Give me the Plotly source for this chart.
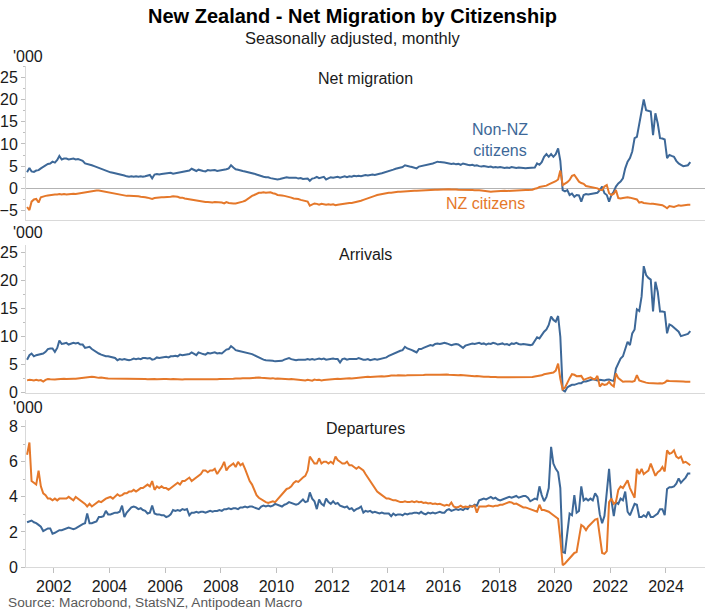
import plotly.graph_objects as go
import pandas as pd

# ---------------- data ('000, seasonally adjusted, monthly Jan-2001 .. Nov-2024) ----------------
months = pd.date_range("2001-01-01", "2024-11-01", freq="MS") + pd.Timedelta(days=14)

net_non_nz = [
    3.6, 4.6, 3.8, 3.7, 4.0, 4.1, 4.5, 4.9, 5.1, 5.5, 5.6, 6.0,
    5.8, 6.4, 7.3, 6.5, 6.7, 6.7, 6.5, 6.6, 6.7, 6.5, 6.6, 6.4,
    6.2, 5.6, 5.5, 5.3, 5.2, 5.0, 4.8, 4.6, 4.4, 4.1, 4.0, 3.7,
    3.6, 3.5, 3.4, 3.3, 3.1, 3.0, 2.9, 2.7, 2.6, 2.7, 2.6, 2.7,
    2.6, 2.7, 2.6, 2.7, 2.8, 3.0, 2.25, 3.1, 3.2, 3.1, 3.2, 3.3,
    3.4, 3.4, 3.5, 3.3, 3.4, 3.5, 3.6, 3.7, 3.8, 3.9, 4.0, 4.4,
    4.1, 3.9, 4.2, 4.0, 3.9, 3.8, 4.1, 4.0, 4.0, 4.1, 3.9, 4.0,
    4.0, 4.1, 4.3, 4.5, 5.2, 4.7, 4.3, 4.2, 4.0, 3.9, 3.8, 3.7,
    3.6, 3.5, 3.3, 3.1, 2.9, 2.8, 2.6, 2.5, 2.5, 2.3, 2.2, 2.1,
    2.0, 2.1, 2.2, 2.4, 2.5, 2.4, 2.4, 2.3, 2.4, 2.2, 2.3, 2.1,
    2.2, 2.2, 1.7, 2.2, 2.3, 2.6, 2.3, 2.4, 2.6, 2.0, 2.3, 2.5,
    2.4, 2.5, 2.6, 2.4, 2.6, 2.7, 2.5, 2.7, 2.6, 2.8, 2.7, 2.8,
    2.7, 2.9, 3.0, 2.9, 3.0, 3.1, 3.0, 3.2, 3.3, 3.4, 3.6, 3.8,
    3.9, 4.1, 4.2, 4.4, 4.5, 4.6, 4.8, 5.2, 5.0, 4.9, 4.8, 4.6,
    4.5, 4.9, 5.0, 5.1, 5.2, 5.3, 5.5, 5.6, 5.8, 6.0, 5.9, 5.9,
    5.8, 5.7, 5.6, 5.5, 5.6, 5.4, 5.5, 5.3, 5.6, 5.4, 5.3, 5.2,
    5.3, 5.1, 5.2, 5.0, 4.9, 5.0, 4.9, 4.8, 4.9, 4.7, 4.8, 4.7,
    4.8, 4.7, 4.6, 4.7, 4.6, 4.8, 4.7, 4.6, 4.7, 4.6, 4.6, 4.5,
    4.6, 4.65, 4.6, 4.7, 5.6, 5.3, 5.9, 7.1, 7.7, 7.1, 7.7, 7.1,
    7.7, 9.0, 6.2, -0.4, -0.7, -0.4, -1.5, -1.2, -1.9, -1.5, -1.6, -3.0,
    -1.5, -1.3, -1.4, -1.3, -1.2, -1.1, -1.0, -0.4, 0.4, -1.1, -1.5, -3.0,
    -1.5, -0.7, 0.4, 1.1, 1.5, 2.25, 4.5, 6.0, 6.8, 8.3, 11.3, 11.6,
    14.6, 17.6, 20.0, 17.6, 17.4, 17.3, 12.0, 16.9, 14.6, 11.3, 11.2, 11.0,
    6.8, 7.5, 7.3, 7.1, 6.2, 5.6, 5.3, 5.0, 5.1, 5.2, 5.9,
]

net_nz = [
    -4.2, -4.9, -3.0, -2.5, -2.4, -3.2, -2.0, -1.8, -1.7, -1.6, -1.5, -1.5,
    -1.4, -1.4, -1.3, -1.4, -1.3, -1.4, -1.3, -1.3, -1.2, -1.3, -1.2, -1.1,
    -1.0, -1.0, -0.9, -0.8, -0.7, -0.6, -0.5, -0.5, -0.6, -0.7, -0.8, -1.0,
    -1.1, -1.2, -1.3, -1.4, -1.5, -1.5, -1.6, -1.7, -1.7, -1.7, -1.8, -1.8,
    -1.8, -1.9, -1.9, -2.0, -2.1, -2.2, -2.4, -2.2, -2.1, -2.1, -2.0, -2.0,
    -2.0, -1.9, -1.9, -1.8, -1.8, -1.9, -2.1, -2.1, -2.3, -2.4, -2.5, -2.6,
    -2.6, -2.7, -2.8, -2.9, -3.0, -3.1, -3.1, -3.2, -3.2, -3.1, -3.1, -3.2,
    -3.2, -3.4, -3.1, -3.3, -3.4, -3.4, -3.4, -3.3, -3.2, -3.0, -2.8, -2.4,
    -2.0, -1.7, -1.5, -1.2, -1.0, -1.0, -0.9, -1.0, -1.0, -0.9, -1.1, -1.2,
    -1.5, -1.5, -1.6, -1.7, -1.8, -1.9, -2.1, -2.3, -2.3, -2.4, -2.6, -2.7,
    -2.9, -3.0, -3.9, -3.6, -3.4, -3.5, -3.7, -3.5, -3.6, -3.7, -3.6, -3.7,
    -3.6, -3.8, -3.7, -3.6, -3.5, -3.4, -3.4, -3.3, -3.3, -3.2, -3.0, -3.0,
    -2.8, -2.6, -2.4, -2.2, -2.0, -1.9, -1.7, -1.5, -1.4, -1.2, -1.1, -1.0,
    -1.0, -1.0, -0.9, -0.8, -0.75, -0.75, -0.7, -0.7, -0.65, -0.6, -0.6, -0.55,
    -0.55, -0.5, -0.5, -0.45, -0.4, -0.4, -0.4, -0.35, -0.3, -0.3, -0.25, -0.25,
    -0.25, -0.2, -0.2, -0.25, -0.2, -0.25, -0.3, -0.3, -0.25, -0.3, -0.35, -0.4,
    -0.4, -0.45, -0.4, -0.45, -0.5, -0.6, -0.65, -0.7, -0.75, -0.7, -0.65, -0.6,
    -0.6, -0.55, -0.55, -0.6, -0.55, -0.5, -0.45, -0.5, -0.45, -0.4, -0.4, -0.35,
    -0.4, -0.4, -0.3, -0.1, 0.0, 0.3, 0.4, 0.5, 0.6, 0.9, 1.1, 1.3,
    1.6, 2.0, 4.0, 0.75, 1.0, 1.4, 1.9, 2.8, 3.0, 2.3, 1.5, 1.2,
    1.0, 0.5, 0.4, 0.4, 0.3, 0.1, 0.0, -0.3, -0.4, 0.4, 0.75, -1.1,
    -1.5, -1.2, -0.4, -2.2, -2.3, -2.2, -2.1, -2.0, -2.1, -2.2, -2.3, -2.5,
    -3.2, -3.1, -3.3, -3.4, -3.4, -3.5, -3.5, -3.6, -3.7, -3.7, -3.8, -4.1,
    -4.5, -4.0, -4.1, -4.2, -4.0, -3.8, -3.9, -3.8, -3.7, -3.7, -3.7,
]

arr_non_nz = [
    5.9, 6.7, 7.0, 6.5, 6.7, 6.8, 6.9, 7.0, 7.3, 7.8, 7.9, 7.9,
    7.3, 8.0, 9.3, 8.7, 8.8, 8.9, 8.6, 8.7, 8.9, 8.8, 8.9, 8.6,
    8.6, 8.0, 8.1, 8.2, 7.8, 7.5, 7.3, 7.0, 6.8, 6.6, 6.5, 6.5,
    6.4, 6.4, 6.2, 5.8, 6.0, 5.9, 6.0, 5.9, 5.8, 5.9, 6.1, 6.0,
    6.1, 6.0, 6.2, 6.2, 6.1, 6.2, 5.9, 6.0, 6.3, 6.2, 6.3, 6.4,
    6.4, 6.3, 6.5, 6.5, 6.6, 6.5, 6.8, 6.7, 6.8, 6.9, 6.9, 7.2,
    6.9, 6.7, 7.2, 7.0, 6.9, 6.8, 7.1, 7.0, 7.1, 7.2, 7.0, 7.1,
    7.0, 7.4, 7.7, 7.8, 8.3, 8.0, 7.6, 7.5, 7.4, 7.3, 7.2, 7.2,
    7.0, 6.9, 6.7, 6.5, 6.2, 6.1, 5.9, 5.8, 5.8, 5.7, 5.7, 5.6,
    5.6, 5.6, 5.7, 5.9, 6.0, 6.2, 6.0, 5.9, 5.8, 5.9, 5.9, 5.8,
    5.9, 6.0, 5.9, 6.0, 5.9, 6.0, 6.1, 6.0, 6.1, 5.9, 6.0, 6.1,
    6.1, 6.0, 6.0, 5.4, 6.0, 6.1, 5.9, 6.0, 6.0, 6.1, 6.0, 6.2,
    6.0, 5.9, 5.9, 6.0, 5.8, 5.9, 6.0, 5.9, 6.0, 6.0, 6.2, 6.3,
    6.6, 6.8, 7.0, 7.1, 7.3, 7.5, 7.6, 8.2, 7.9, 7.8, 7.6, 7.4,
    7.2, 7.8, 7.8, 8.0, 8.2, 8.3, 8.5, 8.4, 8.7, 8.8, 8.7, 8.8,
    8.9, 8.8, 8.6, 8.5, 8.6, 8.7, 8.6, 8.3, 8.0, 8.4, 8.5, 8.7,
    8.8, 8.7, 8.8, 8.9, 8.7, 8.8, 8.6, 8.8, 8.7, 8.9, 8.8, 8.6,
    8.7, 8.8, 8.6, 8.7, 8.5, 8.8, 8.7, 8.9, 8.7, 8.6, 8.7, 8.6,
    8.5, 8.5, 8.6, 9.3, 9.9, 9.7, 10.4, 10.9, 11.3, 12.1, 13.6, 13.0,
    12.7, 13.7, 10.0, 0.5, 0.2, 0.95, 1.2, 1.4, 1.4, 1.6, 1.7, 1.7,
    2.0, 2.0, 2.1, 2.3, 2.4, 2.3, 2.2, 2.3, 2.25, 2.2, 2.3, 2.35,
    2.2, 2.1, 4.3, 5.2, 6.1, 6.5, 7.6, 9.1, 8.5, 10.6, 11.3, 14.9,
    14.6, 17.2, 22.6, 21.0, 20.5, 20.2, 14.5, 19.8, 18.0, 14.5, 14.5, 14.4,
    10.6, 12.2, 12.0, 11.6, 11.3, 10.9, 10.1, 10.2, 10.3, 10.5, 11.0,
]

arr_nz = [
    2.2, 2.3, 2.25, 2.2, 2.3, 2.2, 2.25, 2.0, 2.3, 2.45, 2.4, 2.35,
    2.35, 2.4, 2.45, 2.4, 2.5, 2.45, 2.5, 2.45, 2.5, 2.5, 2.55, 2.6,
    2.7, 2.75, 2.85, 2.8, 2.85, 2.8, 2.7, 2.65, 2.7, 2.6, 2.6, 2.55,
    2.55, 2.5, 2.55, 2.5, 2.5, 2.45, 2.55, 2.5, 2.45, 2.5, 2.5, 2.45,
    2.5, 2.45, 2.5, 2.45, 2.4, 2.45, 2.5, 2.45, 2.4, 2.45, 2.4, 2.45,
    2.45, 2.4, 2.4, 2.45, 2.4, 2.35, 2.4, 2.35, 2.4, 2.4, 2.35, 2.3,
    2.3, 2.35, 2.3, 2.35, 2.3, 2.3, 2.35, 2.4, 2.35, 2.4, 2.4, 2.45,
    2.45, 2.4, 2.45, 2.5, 2.45, 2.5, 2.55, 2.5, 2.55, 2.6, 2.55, 2.6,
    2.6, 2.65, 2.6, 2.65, 2.7, 2.65, 2.6, 2.65, 2.6, 2.55, 2.6, 2.5,
    2.55, 2.5, 2.45, 2.5, 2.45, 2.4, 2.45, 2.4, 2.35, 2.4, 2.3, 2.25,
    2.2, 2.3, 2.2, 2.15, 2.35, 2.25, 2.3, 2.2, 2.25, 2.3, 2.35, 2.4,
    2.4, 2.45, 2.5, 2.45, 2.5, 2.55, 2.5, 2.6, 2.55, 2.6, 2.65, 2.7,
    2.7, 2.75, 2.8, 2.85, 2.8, 2.85, 2.9, 2.85, 2.9, 2.95, 2.9, 3.0,
    3.0, 3.05, 3.0, 3.05, 3.1, 3.05, 3.1, 3.05, 3.1, 3.1, 3.05, 3.1,
    3.1, 3.15, 3.1, 3.15, 3.2, 3.15, 3.2, 3.2, 3.25, 3.2, 3.2, 3.25,
    3.2, 3.25, 3.2, 3.15, 3.2, 3.15, 3.1, 3.15, 3.1, 3.05, 3.1, 3.0,
    3.0, 2.95, 3.0, 2.9, 2.9, 2.85, 2.9, 2.85, 2.8, 2.85, 2.8, 2.75,
    2.75, 2.8, 2.75, 2.7, 2.75, 2.7, 2.75, 2.7, 2.7, 2.75, 2.7, 2.75,
    2.75, 2.75, 2.8, 2.9, 2.95, 3.0, 3.1, 3.3, 3.35, 3.45, 3.55, 3.6,
    3.95, 5.2, 2.5, 0.6, 0.9, 1.9, 2.6, 3.3, 3.2, 2.95, 3.0, 3.0,
    2.3, 2.4, 2.6, 2.75, 2.5, 2.4, 3.0, 1.1, 1.6, 1.4, 1.5, 1.95,
    1.4, 1.1, 3.45, 2.6, 2.25, 1.95, 2.0, 2.05, 2.0, 1.95, 2.1, 3.15,
    2.2, 2.05, 1.9, 1.8, 1.75, 1.7, 1.65, 1.7, 1.65, 1.7, 1.65, 1.8,
    2.15, 2.1, 2.1, 2.1, 2.05, 2.05, 2.0, 2.0, 1.95, 1.95, 1.95,
]

dep_non_nz = [
    2.55, 2.62, 2.65, 2.55, 2.5, 2.4, 2.3, 2.05, 2.15, 2.2, 2.2, 1.9,
    1.95, 2.05, 2.1, 2.1, 2.15, 2.2, 2.25, 2.2, 2.15, 2.2, 2.3, 2.35,
    2.45, 2.5, 3.05, 2.5, 2.5, 2.55, 2.6, 2.85, 2.85, 2.9, 3.2, 3.0,
    3.0, 3.05, 3.1, 3.1, 3.15, 3.5, 2.85, 3.1, 3.25, 3.4, 3.45, 3.4,
    3.3, 3.35, 3.25, 3.2, 3.05, 3.1, 3.5, 3.05, 3.0, 3.0, 2.95, 2.95,
    2.85, 2.9, 3.0, 3.25, 3.2, 3.25, 3.2, 3.3, 3.25, 3.3, 2.95, 3.1,
    3.1, 3.15, 3.1, 3.15, 3.15, 3.1, 3.15, 3.2, 3.15, 3.2, 3.2, 3.25,
    3.2, 3.3, 3.3, 3.35, 3.3, 3.35, 3.35, 3.3, 3.4, 3.4, 3.45, 3.4,
    3.45, 3.45, 3.4, 3.35, 3.3, 3.45, 3.5, 3.45, 3.5, 3.45, 3.5, 3.6,
    3.55, 3.5, 3.45, 3.55, 3.6, 3.7, 3.65, 3.6, 3.55, 3.6, 3.7, 3.85,
    3.7, 3.75, 4.25, 3.9, 3.75, 3.3, 3.85, 3.6, 3.5, 3.9, 3.7, 3.6,
    3.75, 3.6, 3.65, 3.5, 3.45, 3.4, 3.45, 3.3, 3.35, 3.2, 3.3, 3.35,
    3.45, 3.1, 3.2, 3.15, 3.2, 3.1, 3.15, 3.1, 3.05, 3.1, 3.05, 3.05,
    3.05, 2.9, 3.05, 2.95, 3.0, 3.0, 2.95, 3.05, 3.0, 3.05, 3.05, 3.1,
    3.1, 3.05, 3.15, 3.05, 3.0, 3.1, 3.05, 3.1, 3.05, 3.1, 3.15, 3.1,
    3.1, 3.25, 3.3, 3.2, 3.25, 3.3, 3.25, 3.3, 3.25, 3.35, 3.3, 3.5,
    3.45, 3.55, 3.5, 3.8, 3.85, 3.9, 3.85, 3.95, 4.0, 3.9, 3.95, 3.85,
    3.8, 3.85, 3.9, 3.95, 4.0, 3.95, 4.0, 4.05, 3.95, 4.0, 4.05, 4.05,
    3.95, 3.75, 3.8, 3.9, 3.85, 4.6, 4.1, 3.75, 4.0, 4.5, 6.85, 5.9,
    5.6, 5.4, 4.5, 0.85, 0.8, 2.1, 3.05, 2.95, 4.1, 3.1, 3.2, 4.6,
    3.8, 3.9, 3.8, 3.9, 3.8, 4.2, 4.0, 3.0, 2.5, 2.9, 4.2, 5.6,
    3.8, 2.9, 3.7, 3.6, 3.9, 3.8, 4.3, 3.15, 2.95, 3.3, 3.6, 3.55,
    2.85, 2.85, 2.95, 2.85, 3.15, 2.85, 2.85, 2.95, 3.05, 3.3, 3.3, 2.95,
    4.45, 4.55, 4.55, 4.6, 4.75, 5.05, 4.8, 4.95, 5.1, 5.33, 5.33,
]

dep_nz = [
    6.4, 7.1, 4.9, 4.8, 4.7, 5.5, 4.6, 4.2, 4.1, 3.9, 3.9, 3.8,
    3.9, 3.8, 3.9, 3.9, 3.9, 3.9, 4.0, 3.9, 3.8, 4.0, 3.9, 3.8,
    3.7, 3.6, 3.45, 3.6, 3.45, 3.55, 3.6, 3.75, 3.7, 3.8, 3.9, 3.95,
    4.0, 3.9, 4.05, 4.15, 4.05, 4.1, 4.2, 4.2, 4.3, 4.3, 4.4, 4.3,
    4.4, 4.5, 4.5, 4.6, 4.7, 4.6, 4.9, 4.4, 4.6, 4.5, 4.6, 4.5,
    4.5, 4.4, 4.5, 4.6, 4.7, 4.8, 4.7, 4.9, 4.9, 5.0, 5.1, 4.9,
    5.0, 5.1, 5.2, 5.3, 5.5, 5.5, 5.4, 5.5, 5.5, 5.6, 5.3, 5.5,
    5.7, 6.0, 5.5, 5.7, 5.8, 5.9, 5.7, 6.0, 5.8, 5.9, 5.6, 5.2,
    4.9, 4.7, 4.4, 4.1, 3.95, 3.85, 3.8, 3.7, 3.65, 3.7, 3.75, 3.7,
    3.85, 4.0, 4.1, 4.3, 4.45, 4.5, 4.6, 4.8, 4.9, 4.85, 5.0, 5.1,
    5.2, 5.5, 6.3, 6.1, 5.9, 5.9, 6.2, 5.9, 6.0, 6.0, 5.9, 6.0,
    5.9, 6.3, 6.1, 6.0, 5.9, 5.9, 6.0, 5.8, 5.8, 5.7, 5.6, 5.7,
    5.6, 5.5, 5.3, 5.1, 4.9, 4.7, 4.5, 4.3, 4.2, 4.1, 4.0, 3.9,
    3.9, 3.85, 3.8, 3.8, 3.75, 3.7, 3.7, 3.75, 3.7, 3.7, 3.75, 3.7,
    3.75, 3.7, 3.72, 3.65, 3.68, 3.62, 3.65, 3.6, 3.62, 3.58, 3.6, 3.55,
    3.5, 3.55, 3.5, 3.68, 3.45, 3.4, 3.42, 3.5, 3.4, 3.45, 3.42, 3.45,
    3.45, 3.5, 3.1, 3.45, 3.45, 3.48, 3.45, 3.5, 3.47, 3.45, 3.5, 3.5,
    3.55, 3.55, 3.6, 3.65, 3.7, 3.68, 3.6, 3.62, 3.55, 3.45, 3.4, 3.4,
    3.35, 3.3, 3.25, 3.2, 3.15, 3.55, 3.25, 3.25, 3.2, 3.15, 3.05, 2.95,
    2.85, 2.75, 1.6, 0.1, 0.2, 0.35, 0.55, 0.7, 0.8, 0.85, 1.7, 2.4,
    2.3, 2.1, 2.3, 2.45, 2.55, 2.7, 2.75, 1.6, 0.8, 0.75, 0.9, 3.7,
    3.9, 3.6, 3.7, 4.4, 4.6, 4.5, 4.7, 4.95, 4.5, 4.2, 3.95, 5.6,
    5.3, 5.6, 5.3, 5.4, 5.5, 5.9, 5.6, 5.2, 5.4, 5.5, 5.7, 5.45,
    6.65, 6.45, 6.5, 6.65, 6.3, 6.2, 6.3, 5.95, 6.0, 5.9, 5.8,
]

series_names = ["Non-NZ citizens", "NZ citizens"]
panel_titles = ["Net migration", "Arrivals", "Departures"]

for s in (net_non_nz, net_nz, arr_non_nz, arr_nz, dep_non_nz, dep_nz):
    assert len(s) == len(months), len(s)

# ---------------- styling / geometry ----------------
BLUE = "#3d6898"
ORANGE = "#e5782a"
AXIS = "#d9d9d9"
TICKC = "#bfbfbf"
TXT = "#1a1a1a"
FONT = "Liberation Sans, Arial, sans-serif"

W, H = 705, 612
ML, MR, MT, MB = 26, 0, 0, 45
PH = H - MT - MB
PW = W - ML - MR


def py(y):
    return (PH - (y - MT)) / PH


def px(x):
    return (x - ML) / PW


fig = go.Figure()
panels = [
    ("x", "y", net_non_nz, net_nz),
    ("x2", "y2", arr_non_nz, arr_nz),
    ("x3", "y3", dep_non_nz, dep_nz),
]
for xa, ya, blue_vals, orange_vals in panels:
    fig.add_trace(go.Scatter(x=months, y=blue_vals, xaxis=xa, yaxis=ya, mode="lines",
                             name=series_names[0], line=dict(color=BLUE, width=2),
                             showlegend=False))
    fig.add_trace(go.Scatter(x=months, y=orange_vals, xaxis=xa, yaxis=ya, mode="lines",
                             name=series_names[1], line=dict(color=ORANGE, width=2),
                             showlegend=False))

xrange = ["2001-01-01", "2025-05-27"]
common_x = dict(range=xrange, type="date", showgrid=False, zeroline=False,
                showline=True, linecolor=AXIS, linewidth=1)


def yax(domain, rng, dtick, minor, zeroline=False):
    return dict(domain=domain, range=rng, tick0=0, dtick=dtick, showgrid=False,
                zeroline=zeroline, zerolinecolor="#b3b3b3", zerolinewidth=1,
                showline=True, linecolor=AXIS, linewidth=1,
                ticks="outside", ticklen=4, tickcolor=TICKC,
                minor=dict(ticks="outside", ticklen=2, tickcolor=TICKC, dtick=minor, tick0=0),
                tickfont=dict(family=FONT, size=16, color=TXT))


fig.update_layout(
    width=W, height=H,
    margin=dict(l=ML, r=MR, t=MT, b=MB),
    paper_bgcolor="white", plot_bgcolor="white",
    font=dict(family=FONT, color=TXT),
    xaxis=dict(anchor="y", showticklabels=False, ticks="", **common_x),
    xaxis2=dict(anchor="y2", showticklabels=False, ticks="", matches="x", **common_x),
    xaxis3=dict(anchor="y3", matches="x", ticks="outside", ticklen=5, tickcolor=TICKC,
                tick0="2002-01-01", dtick="M24", tickformat="%Y",
                tickfont=dict(family=FONT, size=16, color=TXT), **common_x),
    yaxis=yax([py(220.3), py(66.2)], [-7.2, 27.5], 5, 2.5, zeroline=True),
    yaxis2=yax([py(392.7), py(244.9)], [0, 26.4], 5, 2.5),
    yaxis3=yax([0, py(419.7)], [0, 8.4], 2, 1),
)

ann = []
ann.append(dict(text="<b>New Zealand - Net Migration by Citizenship</b>", x=px(352), y=py(16),
                font=dict(family=FONT, size=20, color="#000000")))
ann.append(dict(text="Seasonally adjusted, monthly", x=px(352), y=py(38),
                font=dict(family=FONT, size=16.5, color=TXT)))
for yy in (56.5, 232.5, 407):
    ann.append(dict(text="'000", x=px(11), y=py(yy), xanchor="left",
                    font=dict(family=FONT, size=16, color=TXT)))
for t, yy in zip(panel_titles, (78, 254, 428)):
    ann.append(dict(text=t, x=px(365), y=py(yy), font=dict(family=FONT, size=16, color=TXT)))
ann.append(dict(text="Non-NZ<br>citizens", x=px(500), y=py(140), align="center",
                font=dict(family=FONT, size=16, color=BLUE)))
ann.append(dict(text="NZ citizens", x=px(485), y=py(203),
                font=dict(family=FONT, size=16, color=ORANGE)))
ann.append(dict(text="Source: Macrobond, StatsNZ, Antipodean Macro", x=px(6), y=py(602),
                xanchor="left", font=dict(family=FONT, size=13.7, color="#595959")))

for a in ann:
    a.setdefault("xanchor", "center")
    a.update(xref="paper", yref="paper", yanchor="middle", showarrow=False)
fig.update_layout(annotations=ann)

# page body without its default 8px margin, so the 705x612 chart fills the window exactly
post = "document.body.style.margin='0px';document.body.style.overflow='hidden';"
fig.write_html("out.html", config={"displayModeBar": False}, post_script=post)
